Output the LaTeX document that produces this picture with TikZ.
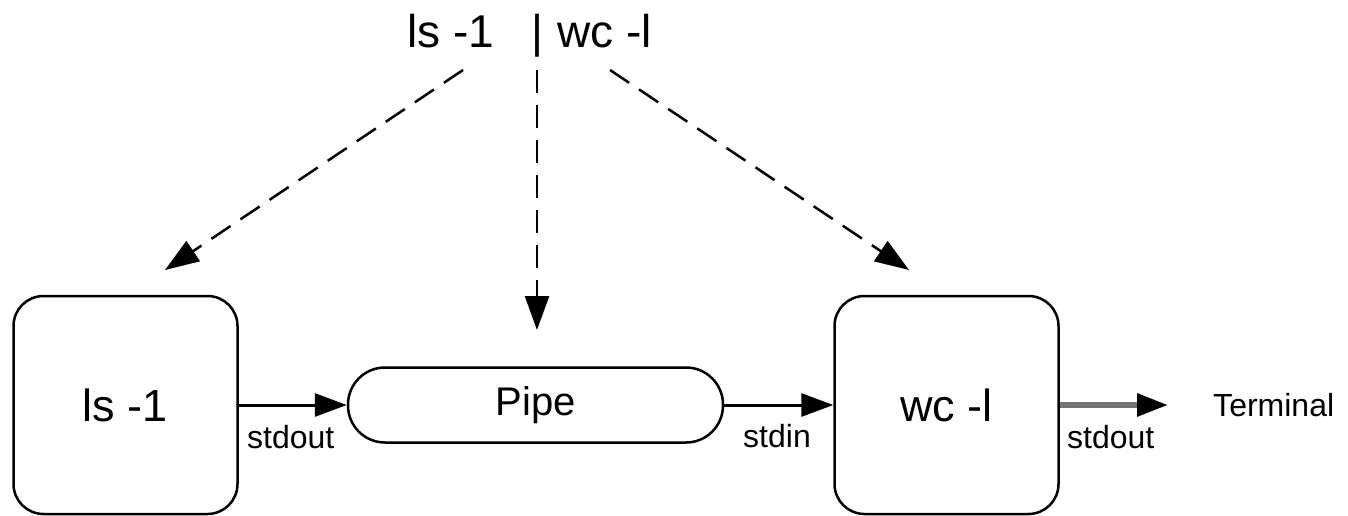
\documentclass[tikz,border=0pt]{standalone}
\usepackage{fontspec}
\setmainfont{Liberation Sans}
\usetikzlibrary{arrows.meta}
\begin{document}
\begin{tikzpicture}[x=1pt,y=-1pt,
  cmdbox/.style={draw, line width=2.5pt, rounded corners=30pt, minimum width=224pt,
    minimum height=218pt, inner sep=0pt, font=\fontsize{45}{54}\selectfont},
  pipebox/.style={draw, line width=2.5pt, rounded corners=37pt, minimum width=375pt,
    minimum height=75pt, inner sep=0pt, font=\fontsize{40}{48}\selectfont},
  cmdtext/.style={inner sep=0pt, font=\fontsize{46}{55}\selectfont},
  stream/.style={inner sep=0pt, anchor=base west, font=\fontsize{32}{38}\selectfont},
  flow/.style={-{Triangle[length=32pt,width=23pt]}, line width=3pt},
  outflow/.style={-{Triangle[length=31pt,width=22pt,color=black]}, line width=6pt, draw=black!55},
  spawn/.style={-{Triangle[length=34pt,width=24pt]}, line width=2.5pt, dash pattern=on 23pt off 12pt},
]
\useasboundingbox (0,0) rectangle (1348,516);

% the command line
\node[cmdtext, anchor=base west] (tls) at (407,48) {ls -1};
\node[cmdtext, anchor=base] (tbar) at (537,48) {|};
\node[cmdtext, anchor=base west] (twc) at (557,48) {wc -l};

% processes and the pipe between them
\node[cmdbox] (ls) at (125.5,405) {ls -1};
\node[pipebox] (pipe) at (535.5,405) {Pipe};
\node[cmdbox] (wc) at (946.5,405) {wc -l};
\node[inner sep=0pt, anchor=west, font=\fontsize{32}{38}\selectfont] (term) at (1213,405) {Terminal};

% data flow
\draw[flow] (ls) -- (pipe);
\draw[flow] (pipe) -- (wc);
\draw[outflow, shorten >=45pt] (wc) -- (term.west);

\node[stream] (lsout) at (247,448) {stdout};
\node[stream] (wcin) at (743,447) {stdin};
\node[stream] (wcout) at (1067,448) {stdout};

% what the shell creates for each part
\coordinate (s1) at (463,70);
\coordinate (e1) at (165,270);
\coordinate (s2) at (537,70);
\coordinate (e2) at (537,330);
\coordinate (s3) at (610,70);
\coordinate (e3) at (909,270);
\draw[spawn] (s1) -- (e1);
\draw[spawn] (s2) -- (e2);
\draw[spawn] (s3) -- (e3);
\end{tikzpicture}
\end{document}
